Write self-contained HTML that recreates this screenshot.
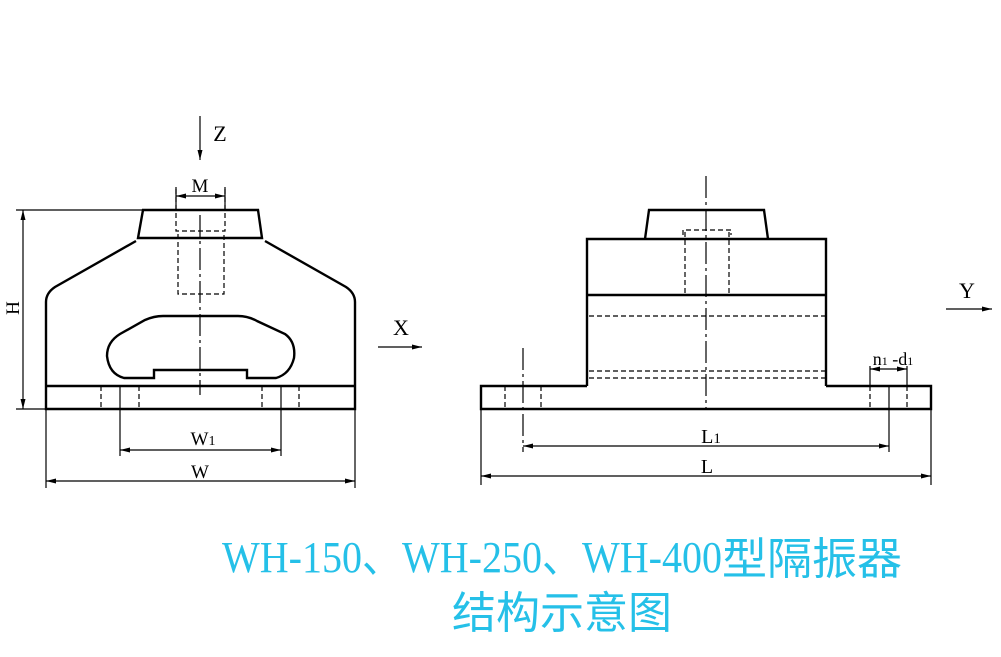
<!DOCTYPE html>
<html><head><meta charset="utf-8"><style>html,body{margin:0;padding:0;background:#fff}svg{display:block}</style></head><body>
<svg width="1001" height="657" viewBox="0 0 1001 657" xmlns="http://www.w3.org/2000/svg">
<defs>
<marker id="a" viewBox="0 0 10 6" refX="10" refY="3" markerWidth="11" markerHeight="6" markerUnits="userSpaceOnUse" orient="auto-start-reverse"><path d="M0,0.5 L10,3 L0,5.5 z" fill="#000"/></marker>
</defs>
<g fill="none" stroke="#000" stroke-width="1.2">
<!-- LEFT VIEW -->
<g stroke-width="2.4">
<path d="M143,210 L258,210 L262,238 L138,238 Z"/>
<path d="M136,241 L55,287 Q46,293 46,302 L46,409 L355,409 L355,302 Q355,293 346,287 L265,241"/>
<path d="M46,386 L355,386"/>
<path d="M154,378 L154,370 L247,370 L247,378 L276,378 Q290,374 294,358 Q296,342 285,334 L257,321 Q248,316 238,316 L163,316 Q154,316 145,320 L120,334 Q107,342 107,356 Q109,374 124,378 Z"/>
</g>
<path d="M200,215 L200,395" stroke-dasharray="22,4,3,4"/>
<g stroke-dasharray="5,3">
<path d="M176,189 L176,231 L225,231 L225,189"/>
<path d="M178,234 L178,294 L224,294 L224,234"/>
<path d="M101,386 L101,409 M139,386 L139,409 M262,386 L262,409 M299,386 L299,409"/>
</g>
<path d="M120,386 L120,456 M281,386 L281,456"/>
<path d="M176,187 L176,210 M225,187 L225,210"/>
<path d="M176,196 L225,196" marker-start="url(#a)" marker-end="url(#a)"/>
<path d="M16,210 L143,210 M16,409 L46,409"/>
<path d="M23,210 L23,409" marker-start="url(#a)" marker-end="url(#a)"/>
<path d="M120,450 L281,450" marker-start="url(#a)" marker-end="url(#a)"/>
<path d="M46,409 L46,488 M355,409 L355,488"/>
<path d="M46,481 L355,481" marker-start="url(#a)" marker-end="url(#a)"/>
<path d="M200,116 L200,160" marker-end="url(#a)"/>
<path d="M378,347 L422,347" marker-end="url(#a)"/>
<!-- RIGHT VIEW -->
<g stroke-width="2.4">
<path d="M645,239 L649,210 L764,210 L768,239"/>
<path d="M587,386 L587,239 L826,239 L826,386 M587,295 L826,295"/>
<path d="M587,386 L481,386 L481,409 L931,409 L931,386 L826,386"/>
</g>
<path d="M706,176 L706,409" stroke-dasharray="22,4,3,4"/>
<path d="M523,348 L523,452" stroke-dasharray="22,4,3,4"/>
<g stroke-dasharray="5,3">
<path d="M683,235 L683,230 L731,230 L731,235"/>
<path d="M685,232 L685,295 M729,232 L729,295"/>
<path d="M589,316 L826,316 M589,371 L826,371 M589,378 L826,378"/>
<path d="M505,386 L505,409 M541,386 L541,409 M870,386 L870,409 M907,386 L907,409"/>
</g>
<path d="M889,386 L889,452 M870,366 L870,386 M907,366 L907,386"/>
<path d="M523,446 L889,446" marker-start="url(#a)" marker-end="url(#a)"/>
<path d="M481,409 L481,485 M931,409 L931,485"/>
<path d="M481,476 L931,476" marker-start="url(#a)" marker-end="url(#a)"/>
<path d="M870,369 L907,369" marker-start="url(#a)" marker-end="url(#a)"/>
<path d="M946,309 L992,309" marker-end="url(#a)"/>
</g>
<g font-family="Liberation Serif, serif" font-size="22" fill="#000" text-anchor="middle">
<text x="220" y="141">Z</text>
<text x="200" y="192" font-size="19">M</text>
<text x="401" y="335">X</text>
<text x="0" y="0" transform="translate(19,308) rotate(-90)" font-size="19">H</text>
<text x="203" y="445" font-size="19">W<tspan font-size="14">1</tspan></text>
<text x="200" y="478" font-size="19">W</text>
<text x="711" y="443" font-size="20">L<tspan font-size="15">1</tspan></text>
<text x="707" y="473" font-size="20">L</text>
<text x="967" y="298">Y</text>
<text x="893" y="365" font-size="18">n<tspan font-size="12">1</tspan> -d<tspan font-size="12">1</tspan></text>
</g>
<g fill="#25c0e8">
<text x="222" y="572" font-family="Liberation Serif, serif" font-size="44" textLength="500" lengthAdjust="spacingAndGlyphs">WH-150、WH-250、WH-400</text>
<text x="722" y="574" font-family="Liberation Sans, 'Noto Sans CJK SC', sans-serif" font-size="44" textLength="180" lengthAdjust="spacingAndGlyphs">型隔振器</text>
<text x="452" y="628" font-family="Liberation Sans, 'Noto Sans CJK SC', sans-serif" font-size="44" textLength="220" lengthAdjust="spacingAndGlyphs">结构示意图</text>
</g>
</svg>
</body></html>
